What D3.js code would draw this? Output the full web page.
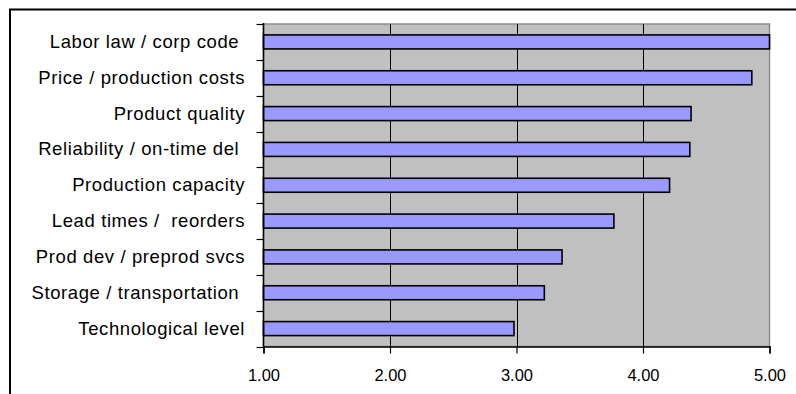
<!DOCTYPE html>
<html>
<head>
<meta charset="utf-8">
<script src="https://cdn.jsdelivr.net/npm/d3@7"></script>
<style>
  html, body { margin: 0; padding: 0; background: #fff; }
  svg { display: block; }
  text { font-family: "Liberation Sans", Arial, sans-serif; fill: #000; }
</style>
</head>
<body>
<svg id="chart" width="796" height="394"></svg>
<script>
// Importance ratings of sourcing factors (scale 1–5)
const categories = [
  "Labor law / corp code ",
  "Price / production costs",
  "Product quality",
  "Reliability / on-time del ",
  "Production capacity",
  "Lead times /  reorders",
  "Prod dev / preprod svcs",
  "Storage / transportation ",
  "Technological level"
];
const scores = [5.00, 4.86, 4.38, 4.37, 4.21, 3.77, 3.36, 3.22, 2.98];
const xTicks = [1, 2, 3, 4, 5];

const svg = d3.select("#chart");

// Outer chart frame
svg.append("path")
  .attr("d", "M10,400 L10,9.5 L800,9.5")
  .attr("fill", "none")
  .attr("stroke", "#000")
  .attr("stroke-width", 2);

const plot = { left: 263.5, right: 769.5, top: 24, bottom: 346.5 };

const x = d3.scaleLinear().domain([1, 5]).range([plot.left, plot.right]);
const yBand = d3.scaleBand().domain(categories).range([plot.top, plot.bottom]);

// Plot area background
svg.append("rect")
  .attr("x", plot.left).attr("y", plot.top)
  .attr("width", plot.right - plot.left).attr("height", plot.bottom - plot.top)
  .attr("fill", "#c0c0c0")
  .attr("stroke", "#8c8c8c")
  .attr("stroke-width", 1.5);

// Vertical gridlines
svg.append("g").selectAll("line")
  .data(xTicks.filter(t => t > 1 && t < 5))
  .join("line")
  .attr("x1", d => Math.round(x(d)) + 0.5).attr("x2", d => Math.round(x(d)) + 0.5)
  .attr("y1", plot.top).attr("y2", plot.bottom)
  .attr("stroke", "#000").attr("stroke-width", 1);

// Bars
svg.append("g").selectAll("rect")
  .data(categories.map((c, i) => ({ c, v: scores[i] })))
  .join("rect")
  .attr("x", x(1))
  .attr("y", d => yBand(d.c) + (yBand.bandwidth() - 14) / 2)
  .attr("width", d => x(d.v) - x(1))
  .attr("height", 14)
  .attr("fill", "#9999ff")
  .attr("stroke", "#000")
  .attr("stroke-width", 1.6);

// Bottom value axis
const xAxis = d3.axisBottom(x)
  .tickValues(xTicks)
  .tickFormat(d3.format(".2f"))
  .tickSize(7)
  .tickPadding(16);
const gx = svg.append("g")
  .attr("transform", `translate(0,${plot.bottom})`)
  .call(xAxis);
gx.select(".domain").attr("stroke", "#000").attr("stroke-width", 1.5);
gx.selectAll(".tick line").attr("stroke", "#000").attr("stroke-width", 1.2);
gx.selectAll(".tick text")
  .style("font-family", '"Liberation Sans", Arial, sans-serif')
  .style("font-size", "16.5px")
  .attr("fill", "#000");

// Left category axis: line plus ticks at band boundaries
const gy = svg.append("g");
gy.append("line")
  .attr("x1", plot.left).attr("x2", plot.left)
  .attr("y1", plot.top - 1).attr("y2", plot.bottom)
  .attr("stroke", "#000").attr("stroke-width", 1.5);
const boundaries = categories.map(c => yBand(c)).concat([plot.bottom]);
gy.selectAll("line.tk")
  .data(boundaries)
  .join("line")
  .attr("class", "tk")
  .attr("x1", plot.left - 7).attr("x2", plot.left)
  .attr("y1", d => Math.round(d) + 0.5).attr("y2", d => Math.round(d) + 0.5)
  .attr("stroke", "#000").attr("stroke-width", 1.2);

// Category labels
gy.selectAll("text")
  .data(categories)
  .join("text")
  .attr("x", 245)
  .attr("y", d => yBand(d) + yBand.bandwidth() / 2 + 6)
  .attr("text-anchor", "end")
  .style("font-size", "18.5px")
  .style("letter-spacing", "0.6px")
  .style("white-space", "pre")
  .text(d => d);
</script>
</body>
</html>
